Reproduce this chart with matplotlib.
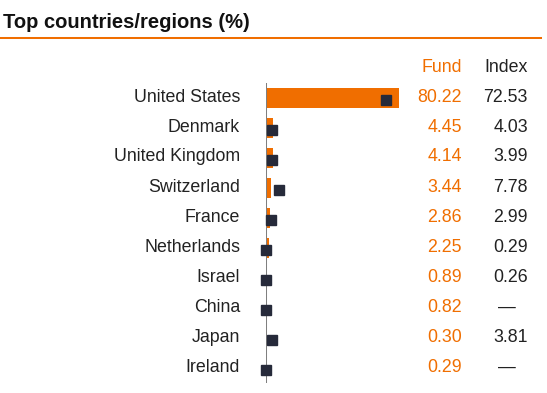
import numpy as np
import matplotlib.pyplot as plt

# Top countries/regions, fund weight vs index weight (%)
countries = ["United States", "Denmark", "United Kingdom", "Switzerland", "France",
             "Netherlands", "Israel", "China", "Japan", "Ireland"]
fund = [80.22, 4.45, 4.14, 3.44, 2.86, 2.25, 0.89, 0.82, 0.30, 0.29]
index = [72.53, 4.03, 3.99, 7.78, 2.99, 0.29, 0.26, None, 3.81, None]

ORANGE = "#f06e00"
NAVY = "#262a3a"
TEXT = "#222222"
W, H = 547, 393

plt.rcParams['font.family'] = ['Liberation Sans', 'DejaVu Sans']

fig = plt.figure(figsize=(W / 100, H / 100), dpi=100)


def fx(px):
    return px / W


def fy(py):
    return 1 - py / H


# title and rule
fig.text(fx(3), fy(22), "Top countries/regions (%)", fontsize=14.5, fontweight="bold",
         color="#111111", ha="left", va="center")
fig.add_artist(plt.Line2D([0, fx(541)], [fy(37.7), fy(37.7)], color=ORANGE, lw=1.45))

# column headers
fig.text(fx(462), fy(68), "Fund", color=ORANGE, fontsize=12.8, ha="right", va="center")
fig.text(fx(528), fy(68), "Index", color=TEXT, fontsize=12.8, ha="right", va="center")

# bar axes: zero at x=265.7 px, 1.658 px per unit
ax = fig.add_axes([fx(265.7), fy(383), fx(165.8), 300 / H])
n = len(countries)
y = np.arange(n)
ax.barh(y, fund, height=0.66, color=ORANGE, zorder=1)
idx_vals = [v if v is not None else 0 for v in index]
ax.plot(idx_vals, y + 0.05, "s", color=NAVY, markersize=7.9, zorder=4, clip_on=False)
ax.axvline(0, color="#7f7f7f", lw=1.45, zorder=3)
ax.set_xlim(0, 100)
ax.set_ylim(n - 0.5, -0.5)
ax.axis("off")

for i in range(n):
    py = 97 + 30 * i
    fig.text(fx(240), fy(py), countries[i], fontsize=12.8, color=TEXT, ha="right", va="center")
    fig.text(fx(462), fy(py), "%.2f" % fund[i], fontsize=12.8, color=ORANGE, ha="right", va="center")
    if index[i] is None:
        fig.text(fx(507), fy(py), "\u2014", fontsize=12.8, color=TEXT, ha="center", va="center")
    else:
        fig.text(fx(528), fy(py), "%.2f" % index[i], fontsize=12.8, color=TEXT, ha="right", va="center")

fig.savefig("out.png", dpi=100)
